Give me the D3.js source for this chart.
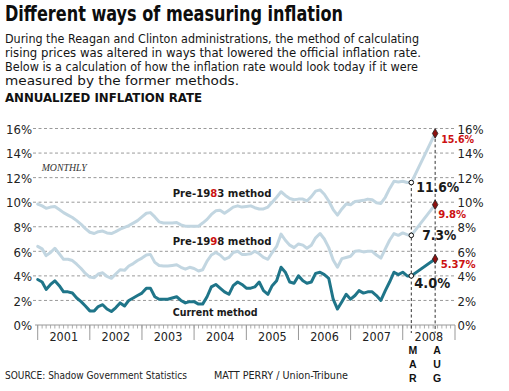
<!DOCTYPE html>
<html><head><meta charset="utf-8">
<script src="https://cdn.jsdelivr.net/npm/d3@7"></script>
<style>
html,body{margin:0;padding:0;background:#fff;}
svg{display:block;}
</style></head>
<body>
<svg id="c" width="509" height="391"></svg>
<script>
// ---------- DATA ----------
const startYear = 2001;
const years = ["2001","2002","2003","2004","2005","2006","2007","2008"];
const yTicks = [0,2,4,6,8,10,12,14,16];
// Monthly annualized inflation, Jan 2001 .. Mar 2008
const currentMethod = [
 3.7,3.5,2.9,3.3,3.6,3.2,2.7,2.7,2.6,2.2,1.9,1.55,
 1.15,1.15,1.5,1.65,1.3,1.1,1.4,1.8,1.55,2.0,2.2,2.4,
 2.6,3.0,3.0,2.3,2.1,2.1,2.1,2.2,2.3,2.0,1.8,1.9,
 1.9,1.7,1.7,2.3,3.1,3.3,3.0,2.7,2.5,3.2,3.5,3.3,
 3.0,3.0,3.1,3.5,2.8,2.5,3.2,3.6,4.7,4.3,3.5,3.4,
 4.0,3.6,3.4,3.5,4.2,4.3,4.1,3.8,2.1,1.3,1.9,2.5,
 2.1,2.4,2.8,2.6,2.7,2.7,2.4,2.0,2.8,3.5,4.3,4.1,
 4.3,4.0,4.0];
const pre1998Method = [
 6.4,6.2,5.65,5.9,6.25,5.8,5.35,5.35,5.25,4.95,4.6,4.2,
 3.9,3.85,4.15,4.25,3.95,3.8,4.15,4.5,4.45,4.8,5.0,5.25,
 5.45,5.7,5.75,5.1,4.85,4.8,4.8,4.85,4.9,4.7,4.55,4.7,
 4.6,4.4,4.5,5.2,5.7,5.9,5.7,5.35,5.5,5.9,6.0,5.75,
 5.75,5.8,6.0,5.8,5.5,5.35,5.9,6.4,7.4,6.9,6.5,6.3,
 6.6,6.5,6.25,6.5,7.1,7.45,7.0,6.3,5.3,4.7,5.4,5.5,
 5.6,6.0,6.05,5.95,6.0,6.0,5.7,5.45,6.2,6.9,7.45,7.3,
 7.5,7.35,7.3];
const pre1983Method = [
 9.85,9.7,9.5,9.6,9.65,9.4,9.15,8.95,8.75,8.5,8.2,7.85,
 7.55,7.45,7.6,7.65,7.5,7.45,7.6,7.8,7.95,8.1,8.3,8.5,
 8.8,9.1,9.15,8.8,8.4,8.3,8.3,8.3,8.35,8.15,8.05,8.05,
 8.05,8.05,8.3,8.6,9.0,9.3,9.35,9.1,9.35,9.6,9.7,9.6,
 9.65,9.7,9.55,9.45,9.45,9.6,10.0,10.4,10.85,10.55,10.3,10.2,
 10.25,10.25,10.1,10.45,10.9,11.0,10.65,10.1,9.4,8.95,9.45,9.85,
 9.8,10.05,10.1,10.15,10.25,10.2,9.95,9.9,10.4,11.1,11.7,11.65,
 11.7,11.6,11.6];
// Latest reading (August 2008)
const augValues = {current:5.37, pre1998:9.8, pre1983:15.6};
const marLabels = ["4.0%","7.3%","11.6%"];
const augLabels = ["5.37%","9.8%","15.6%"];

// ---------- BUILD ----------
const monthDate = i => new Date(startYear, i, 1);
const augDate = new Date(2008, 7, 15);
const marDate = monthDate(currentMethod.length-1);
function series(vals, aug){
  const pts = vals.map((v,i)=>({d:monthDate(i), v}));
  pts.push({d:augDate, v:aug});
  return pts;
}
const sCur = series(currentMethod, augValues.current);
const s98 = series(pre1998Method, augValues.pre1998);
const s83 = series(pre1983Method, augValues.pre1983);

const svg = d3.select("#c");
svg.append("rect").attr("width",509).attr("height",391).attr("fill","#fff");

const x = d3.scaleTime().domain([new Date(2001,0,1), new Date(2009,0,1)]).range([37.7, 455]);
const y = d3.scaleLinear().domain([0,16]).range([325, 128.5]);

const SANS = "'DejaVu Sans Condensed','DejaVu Sans',sans-serif";
const NARROW = "'Liberation Sans Narrow','DejaVu Sans Condensed',sans-serif";

function txt(s, xx, yy, size, opts={}){
  const t = svg.append("text").attr("x",xx).attr("y",yy)
    .attr("font-family", opts.family||SANS).attr("font-size",size)
    .attr("font-weight", opts.weight||"normal").attr("fill", opts.fill||"#222")
    .attr("text-anchor", opts.anchor||"start").text(s);
  if(opts.italic) t.attr("font-style","italic");
  if(opts.len) t.attr("textLength",opts.len).attr("lengthAdjust","spacingAndGlyphs");
  return t;
}

// Title and intro
txt("Different ways of measuring inflation", 5, 20.7, 21.5, {weight:"bold", len:338, fill:"#0d0d0d"});
const intro = [
 ["During the Reagan and Clinton administrations, the method of calculating",414],
 ["rising prices was altered in ways that lowered the official inflation rate.",416],
 ["Below is a calculation of how the inflation rate would look today if it were",413],
 ["measured by the former methods.",234]];
intro.forEach((l,i)=>txt(l[0], 5, 42.5 + i*14.3, 13, {len:l[1], fill:"#151515"}));
txt("ANNUALIZED INFLATION RATE", 5, 101.5, 12.5, {weight:"bold", len:197, fill:"#111"});

// Gridlines
svg.append("g").selectAll("line").data(yTicks.filter(d=>d>0)).join("line")
  .attr("x1",33).attr("x2",455).attr("y1",d=>y(d)).attr("y2",d=>y(d))
  .attr("stroke","#9a9a9a").attr("stroke-width",1).attr("stroke-dasharray","3,2.5");

// Y labels left & right
const yl = d3.axisLeft(y).tickValues(yTicks).tickFormat(d=>d+"%").tickSize(0).tickPadding(0);
const gL = svg.append("g").attr("transform","translate(32,0)").call(yl);
const yr = d3.axisRight(y).tickValues(yTicks).tickFormat(d=>d+"%").tickSize(0).tickPadding(0);
const gR = svg.append("g").attr("transform","translate(457.5,0)").call(yr);
[gL,gR].forEach(g=>{
  g.select(".domain").remove();
  g.selectAll("text").attr("font-family",SANS).attr("font-size",13).attr("fill","#222").attr("dy","0.36em");
});

// X axis: monthly minor ticks, yearly major
const months = d3.timeMonth.range(new Date(2001,0,1), new Date(2009,0,1));
const xa = svg.append("g");
xa.append("line").attr("x1",35).attr("x2",455).attr("y1",y(0)).attr("y2",y(0)).attr("stroke","#999").attr("stroke-width",1);
xa.selectAll("line.m").data(months).join("line").attr("class","m")
  .attr("x1",d=>x(d)).attr("x2",d=>x(d)).attr("y1",y(0)).attr("y2",y(0)+3.5)
  .attr("stroke","#999").attr("stroke-width",0.8);
const yearDates = d3.timeYear.range(new Date(2001,0,1), new Date(2009,0,2));
xa.selectAll("line.y").data(yearDates).join("line").attr("class","y")
  .attr("x1",d=>x(d)).attr("x2",d=>x(d)).attr("y1",y(0)).attr("y2",y(0)+15)
  .attr("stroke","#999").attr("stroke-width",1);
xa.selectAll("text").data(years).join("text")
  .attr("x",(d,i)=>(x(new Date(+d,0,1))+x(new Date(+d+1,0,1)))/2).attr("y",340.5)
  .attr("text-anchor","middle").attr("font-family",SANS).attr("font-size",12.5).attr("fill","#222").text(d=>d);

// MONTHLY
txt("MONTHLY", 41.7, 171, 10, {family:"'Liberation Serif','DejaVu Serif',serif", italic:true, len:45, fill:"#333"});

// Dashed verticals at MAR and AUG
svg.append("line").attr("x1",x(marDate)).attr("x2",x(marDate)).attr("y1",y(pre1983Method[pre1983Method.length-1])).attr("y2",333)
  .attr("stroke","#333").attr("stroke-dasharray","3,2.5").attr("stroke-width",1);
svg.append("line").attr("x1",x(augDate)).attr("x2",x(augDate)).attr("y1",y(augValues.pre1983)).attr("y2",333)
  .attr("stroke","#333").attr("stroke-dasharray","3,2.5").attr("stroke-width",1);

// Lines
const line = d3.line().x(d=>x(d.d)).y(d=>y(d.v)).curve(d3.curveLinear);
const LIGHT = "#c2d6e1", TEAL = "#1f7589";
[[s83,LIGHT],[s98,LIGHT],[sCur,TEAL]].forEach(([s,c])=>{
  svg.append("path").datum(s).attr("d",line).attr("fill","none").attr("stroke",c)
    .attr("stroke-width",3).attr("stroke-linejoin","round").attr("stroke-linecap","round");
});

// Markers
const marPts = [sCur, s98, s83].map(s=>s[s.length-2]);
const augPts = [sCur, s98, s83].map(s=>s[s.length-1]);
svg.selectAll("circle.mar").data(marPts).join("circle").attr("class","mar")
  .attr("cx",d=>x(d.d)).attr("cy",d=>y(d.v)).attr("r",2.3)
  .attr("fill","#fff").attr("stroke","#111").attr("stroke-width",1);
svg.selectAll("path.aug").data(augPts).join("path").attr("class","aug")
  .attr("transform",d=>`translate(${x(d.d)},${y(d.v)})`)
  .attr("d",d3.symbol().type(d3.symbolDiamond).size(26))
  .attr("fill","#8c1010").attr("stroke","#222").attr("stroke-width",0.8);

// Value labels (offsets from their markers)
const marOff = [[3,11.7,36],[11,4.6,34],[5,9,43]];
marPts.forEach((p,i)=>txt(marLabels[i], x(p.d)+marOff[i][0], y(p.v)+marOff[i][1], 14.5, {weight:"bold", fill:"#1a1a1a", len:marOff[i][2]}));
const augOff = [[5.5,8.5,35],[3,13,28],[6,9.8,33]];
augPts.forEach((p,i)=>txt(augLabels[i], x(p.d)+augOff[i][0], y(p.v)+augOff[i][1], 11, {weight:"bold", fill:"#cc1111", len:augOff[i][2]}));

// Series labels
function seriesLabel(parts, yy, w){
  const t = svg.append("text").attr("x",172.7).attr("y",yy).attr("font-family",NARROW)
    .attr("font-size",13).attr("font-weight","bold").attr("fill","#1a1a1a");
  parts.forEach(p=>t.append("tspan").attr("fill",p[1]||"#1a1a1a").text(p[0]));
  const nw = t.node().getComputedTextLength();
  if(nw>0) t.attr("font-size", Math.min(14, 13*w/nw));
}
seriesLabel([["Pre-19"],["8","#cc1111"],["3 method"]], 197, 99);
seriesLabel([["Pre-19"],["9","#cc1111"],["8 method"]], 245, 99);
seriesLabel([["Current method"]], 316, 85);

// MAR / AUG vertical letters
["M","A","R"].forEach((c,i)=>txt(c, x(marDate)+1.5, 353.5+i*14, 10.5, {weight:"bold", anchor:"middle", fill:"#111", family:"'Liberation Sans',Arial,sans-serif"}));
["A","U","G"].forEach((c,i)=>txt(c, x(augDate)+2, 353.5+i*14, 10.5, {weight:"bold", anchor:"middle", fill:"#111", family:"'Liberation Sans',Arial,sans-serif"}));

// Footer
txt("SOURCE: Shadow Government Statistics", 5, 378.5, 11, {len:182, fill:"#222"});
txt("MATT PERRY / Union-Tribune", 214, 378.5, 11, {len:134, fill:"#222"});
</script>
</body></html>
